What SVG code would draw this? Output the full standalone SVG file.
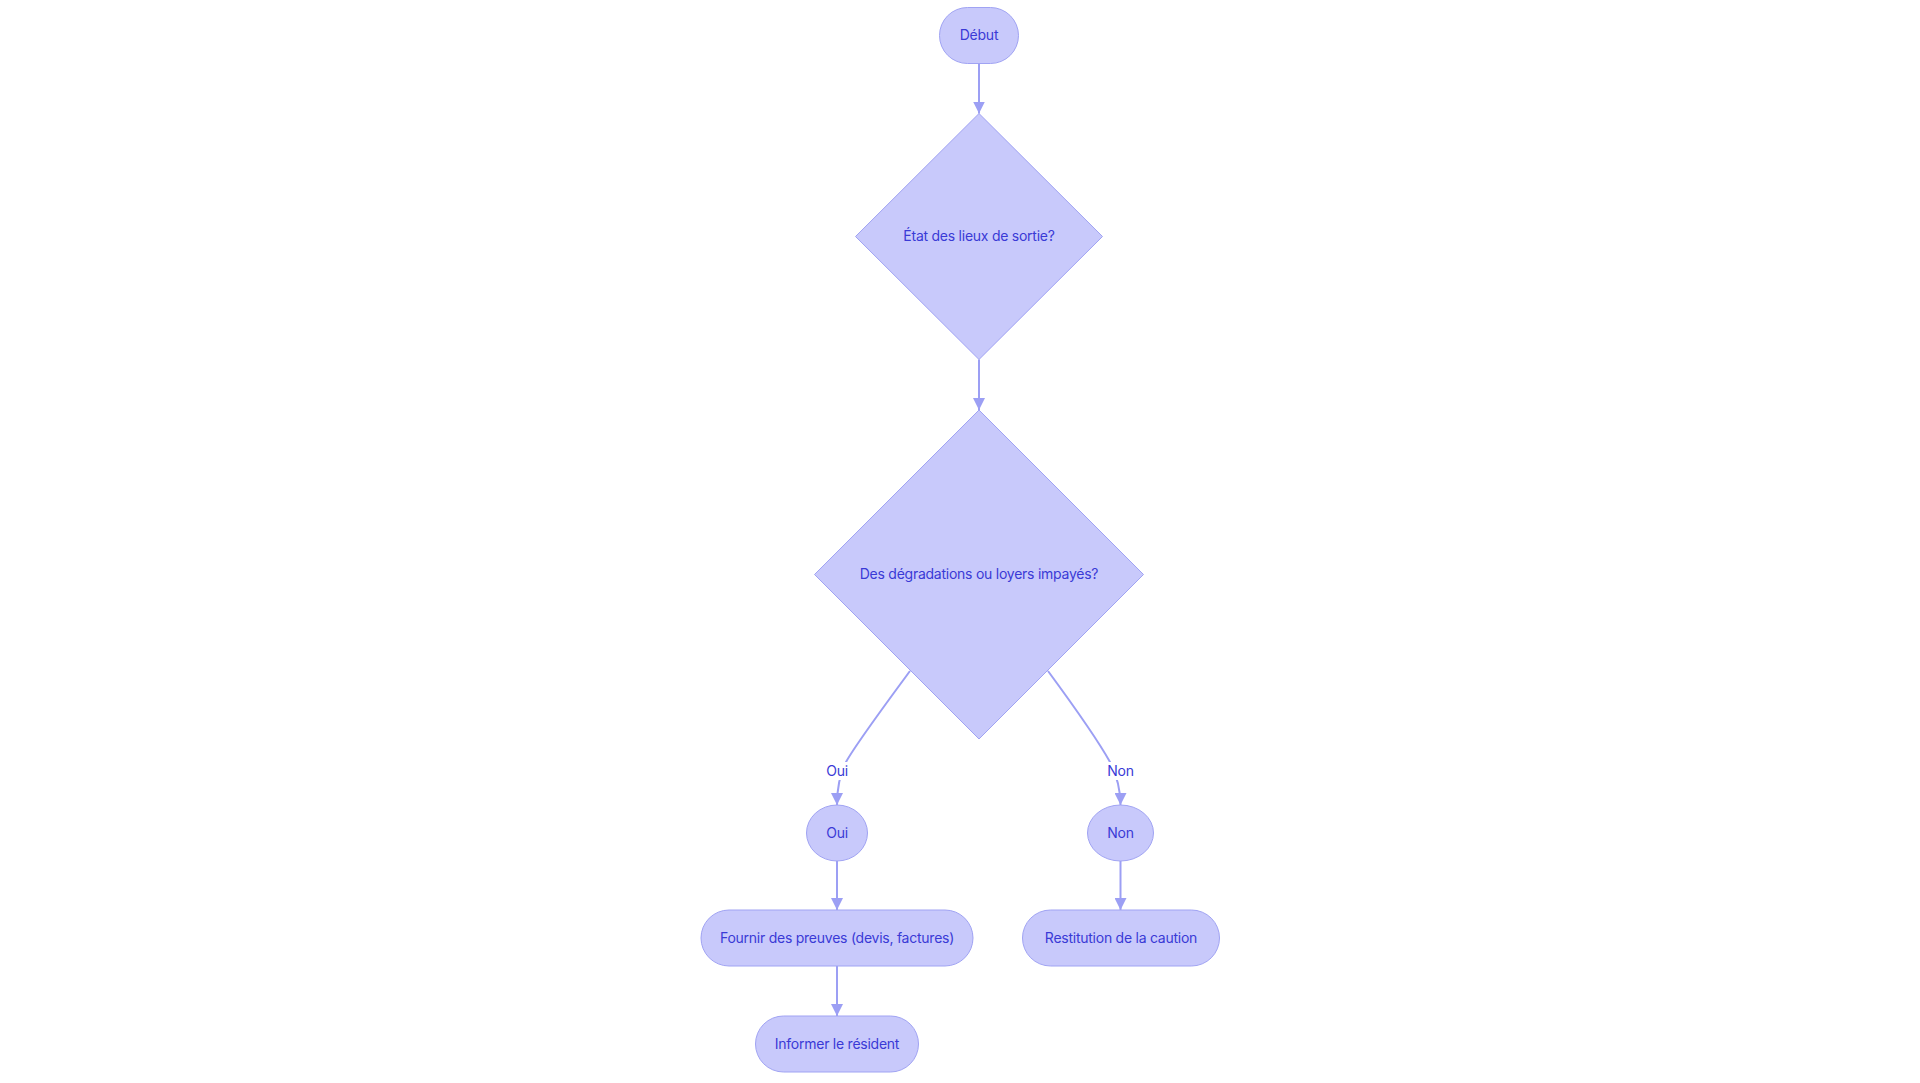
<svg xmlns="http://www.w3.org/2000/svg" width="1920" height="1083" viewBox="0 0 1920 1083">
<style>
.node{fill:#c8c9fb;stroke:#a0a3f3;stroke-width:1}
.lbl{font-family:Inter,"Liberation Sans",sans-serif;font-size:14px;fill:#3a3ad6;text-anchor:middle;dominant-baseline:central;letter-spacing:-0.25px}
.edge{fill:none;stroke:#9c9ff4;stroke-width:2}
.elbg{fill:#ffffff}
</style>
<defs>
<marker id="arrow" viewBox="0 0 10 10" refX="10" refY="5" markerUnits="userSpaceOnUse" markerWidth="12" markerHeight="12" orient="auto">
<path d="M0,0 L10,5 L0,10 z" fill="#9c9ff4"/>
</marker>
</defs>
<rect width="1920" height="1083" fill="#ffffff"/>
<g id="connectors">
<path class="edge" d="M979,63.5 L979,113.5" marker-end="url(#arrow)"/>
<path class="edge" d="M979,359.5 L979,410" marker-end="url(#arrow)"/>
<path class="edge" d="M910,671 C885,705 856,744 846,762 C839,776 837,790 837,805" marker-end="url(#arrow)"/>
<path class="edge" d="M1048,671 C1073,705 1100,744 1110,762 C1117,776 1120.5,790 1120.5,805" marker-end="url(#arrow)"/>
<path class="edge" d="M837,861 L837,910" marker-end="url(#arrow)"/>
<path class="edge" d="M1120.5,861 L1120.5,910" marker-end="url(#arrow)"/>
<path class="edge" d="M837,966 L837,1016" marker-end="url(#arrow)"/>
<g id="label-oui">
<rect class="elbg" x="824" y="762" width="26" height="18"/>
<text class="lbl" x="837" y="770">Oui</text>
</g>
<g id="label-non">
<rect class="elbg" x="1105" y="762" width="31" height="18"/>
<text class="lbl" x="1120.5" y="770">Non</text>
</g>
</g>
<g id="debut">
<rect class="node" x="939.5" y="7.5" width="79" height="56" rx="28" ry="28"/>
<text class="lbl" x="979" y="34.5">Début</text>
</g>
<g id="etat">
<polygon class="node" points="979,113.5 1102.5,236.5 979,359.5 855.5,236.5"/>
<text class="lbl" x="979" y="235.5">État des lieux de sortie?</text>
</g>
<g id="degradations">
<polygon class="node" points="979,410 1143.5,574.5 979,739 814.5,574.5"/>
<text class="lbl" x="979" y="573.5">Des dégradations ou loyers impayés?</text>
</g>
<g id="oui">
<ellipse class="node" cx="837" cy="833" rx="30.5" ry="28"/>
<text class="lbl" x="837" y="832">Oui</text>
</g>
<g id="non">
<ellipse class="node" cx="1120.5" cy="833" rx="33" ry="28"/>
<text class="lbl" x="1120.5" y="832">Non</text>
</g>
<g id="fournir">
<rect class="node" x="701" y="910" width="272" height="56" rx="28" ry="28"/>
<text class="lbl" x="837" y="937">Fournir des preuves (devis, factures)</text>
</g>
<g id="restitution">
<rect class="node" x="1022.5" y="910" width="197" height="56" rx="28" ry="28"/>
<text class="lbl" x="1121" y="937">Restitution de la caution</text>
</g>
<g id="informer">
<rect class="node" x="755.5" y="1016" width="163" height="56" rx="28" ry="28"/>
<text class="lbl" x="837" y="1043">Informer le résident</text>
</g>
</svg>
